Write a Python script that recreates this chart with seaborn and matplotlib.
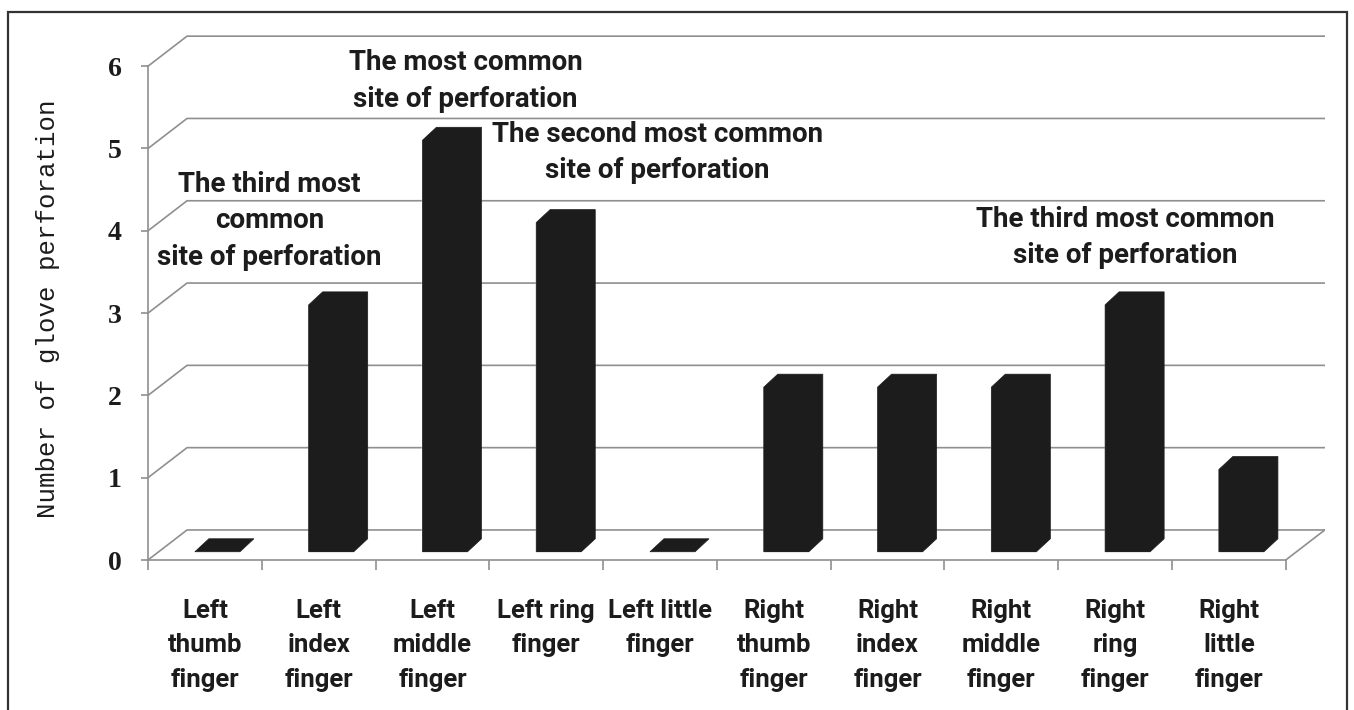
import matplotlib
matplotlib.use("Agg")
import matplotlib.pyplot as plt
from matplotlib.patches import Polygon, Rectangle
import seaborn as sns
import pandas as pd

categories = ["Left\nthumb\nfinger", "Left\nindex\nfinger", "Left\nmiddle\nfinger",
              "Left ring\nfinger", "Left little\nfinger", "Right\nthumb\nfinger",
              "Right\nindex\nfinger", "Right\nmiddle\nfinger", "Right\nring\nfinger",
              "Right\nlittle\nfinger"]
perforations = [0, 3, 5, 4, 0, 2, 2, 2, 3, 1]
y_ticks = [0, 1, 2, 3, 4, 5, 6]

notes = ["The third most\ncommon\nsite of perforation",
         "The most common\nsite of perforation",
         "The second most common\nsite of perforation",
         "The third most common\nsite of perforation"]
note_pos = [(0.57, 4.12), (2.29, 5.82), (3.98, 4.95), (8.09, 3.92)]

sns.set_style("white")
grid_col = "#8f8f8f"
ink = "#1c1c1c"
label_font = ["Liberation Sans Narrow", "Roboto", "DejaVu Sans"]

fig = plt.figure(figsize=(13.54, 7.10), dpi=100)
ax = fig.add_axes([148/1354, 150/710, 1176.8/1354, 6.4*82.3/710])

# depth offsets of back wall and of the bars (data units)
wall_dx, wall_dy = 0.343, 0.365
bar_dx, bar_dy = 0.123, 0.158
bar_w, bar_base, bar_shift = 0.396, 0.1, 0.11

df = pd.DataFrame({"finger": categories, "count": perforations})
sns.barplot(data=df, x="finger", y="count", color=ink, width=bar_w,
            saturation=1, ax=ax, zorder=3)

# back wall grid lines
for k in y_ticks:
    ax.plot([-0.5, -0.5 + wall_dx, 9.5 + wall_dx], [k, k + wall_dy, k + wall_dy],
            color=grid_col, lw=1.2, zorder=1)
ax.plot([9.5, 9.5 + wall_dx], [0, wall_dy], color=grid_col, lw=1.2, zorder=1)

# 3d bars: move the front face and add the top / side
for p in ax.patches:
    x0 = p.get_x() + bar_shift
    h = p.get_height()
    p.set_x(x0)
    p.set_y(bar_base)
    x1 = x0 + bar_w
    y0, y1 = bar_base, bar_base + h
    hexa = [(x0, y0), (x0, y1), (x0 + bar_dx, y1 + bar_dy), (x1 + bar_dx, y1 + bar_dy),
            (x1 + bar_dx, y0 + bar_dy), (x1, y0)]
    ax.add_patch(Polygon(hexa, closed=True, facecolor=ink, edgecolor=ink,
                         lw=0.5, zorder=3))

ax.set_xlim(-0.5, 9.5 + wall_dx)
ax.set_ylim(0, 6 + 0.4)

for s in ["top", "right"]:
    ax.spines[s].set_visible(False)
ax.spines["left"].set_bounds(0, 6)
ax.spines["bottom"].set_bounds(-0.5, 9.5)
for s in ["left", "bottom"]:
    ax.spines[s].set_color(grid_col)
    ax.spines[s].set_linewidth(1.2)

ax.set_yticks(y_ticks)
ax.set_yticklabels([str(v) for v in y_ticks], fontsize=20, fontweight="bold",
                   family="Liberation Serif", color=ink)
ax.tick_params(axis="y", length=5, color=grid_col, width=1.2, pad=14, left=True)

ax.set_xticks([i - 0.5 for i in range(len(categories) + 1)])
ax.set_xticklabels([])
ax.set_xticks(range(len(categories)), minor=True)
ax.set_xticklabels(categories, minor=True, fontsize=18.5, fontweight="bold",
                   family=label_font, color=ink, linespacing=1.55)
ax.tick_params(axis="x", which="major", length=7, color=grid_col, width=1.2, bottom=True)
ax.tick_params(axis="x", which="minor", length=0, pad=28)
ax.set_xlabel("")
ax.set_ylabel("Number of glove perforation", family="Liberation Mono", fontsize=18.5,
              color=ink)
ax.yaxis.set_label_coords(-0.075, 0.477)

for txt, (nx, ny) in zip(notes, note_pos):
    ax.text(nx, ny, txt, ha="center", va="center", fontsize=20, fontweight="bold",
            family=label_font, color=ink, linespacing=1.45, zorder=4)

fig.patches.append(Rectangle((8/1354, -0.01), 1339/1354, 1 - 12/710 + 0.01,
                             transform=fig.transFigure, fill=False,
                             edgecolor="#333333", lw=1.6))

plt.savefig("out.png", dpi=100)
